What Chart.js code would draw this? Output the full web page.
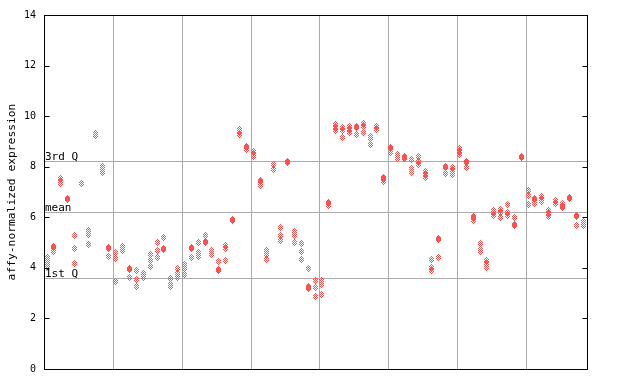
<!DOCTYPE html>
<html><head><meta charset="utf-8">
<script src="https://cdn.jsdelivr.net/npm/chart.js@4/dist/chart.umd.min.js"></script>
<style>html,body{margin:0;padding:0;background:#fff}</style>
</head><body>
<canvas id="c" width="640" height="384" style="width:640px;height:384px;display:block"></canvas>
<script>
// Expression values per sample (each inner list = replicate values of one sample)
const group1 = [[4.40,4.25,4.10],[4.85,4.81,4.66],[7.52,7.42,7.32],[6.74,6.70],[5.27,4.76,4.17],[7.35],[5.48,5.31,4.92],[9.30,9.22],[8.02,7.86,7.76],[4.80,4.76,4.44]];
const group2 = [[4.62,4.36,3.46],[4.84,4.76,4.68],[3.99,3.95,3.62],[3.89,3.54,3.26],[3.76,3.68,3.60],[4.52,4.29,4.05],[4.99,4.68,4.40],[5.19,4.76,4.72],[3.58,3.34,3.26],[3.97,3.77,3.62]];
const group3 = [[4.13,3.97,3.74],[4.80,4.76,4.40],[4.99,4.60,4.44],[5.27,5.04,5.00],[4.68,4.52],[4.25,3.92,3.88],[4.88,4.76,4.29],[5.93,5.89],[9.48,9.38,9.28],[8.81,8.77,8.67]];
const group4 = [[8.60,8.48,8.40],[7.44,7.40,7.24],[4.68,4.52,4.33],[8.10,7.90],[5.58,5.27,5.07],[8.22,8.15],[5.43,5.27,4.99],[4.95,4.64,4.33],[3.97,3.28,3.24,3.18],[3.50,3.22,2.87]];
const group5 = [[3.50,3.34,2.95],[6.60,6.56,6.45],[9.68,9.56,9.45],[9.54,9.45,9.15],[9.58,9.48,9.36],[9.60,9.56,9.28],[9.71,9.61,9.35],[9.21,9.10,8.86],[9.58,9.46],[7.59,7.55,7.43]];
const group6 = [[8.77,8.73,8.57],[8.48,8.32],[8.42,8.38,8.32],[8.30,7.94,7.76],[8.39,8.20,8.10],[7.82,7.71,7.59],[4.33,4.01,3.89],[5.16,5.12,4.40],[8.00,7.96,7.75],[7.98,7.86,7.71]];
const group7 = [[8.71,8.60,8.48],[8.20,8.16,7.98],[6.02,5.98,5.88],[4.95,4.72,4.64],[4.29,4.17,4.01],[6.26,6.17,6.08],[6.32,6.20,5.98],[6.49,6.20,6.06],[5.98,5.71,5.67],[8.41,8.37]];
const group8 = [[7.04,6.85,6.49],[6.76,6.72,6.53],[6.81,6.72,6.62],[6.26,6.13,6.02],[6.66,6.53],[6.55,6.42,6.38],[6.78,6.74],[6.08,6.04,5.66],[5.84,5.75,5.66]];

const yTicks = [0,2,4,6,8,10,12,14];
const groupBoundaries = [10,20,30,40,50,60,70];
const quartileNames = ['3rd Q','mean','1st Q'];
const quartileValues = [8.22,6.21,3.60];
const yTitle = 'affy-normalized expression';

const samples = [].concat(group1,group2,group3,group4,group5,group6,group7,group8);
const xMax = 78.87;
const points = [];
samples.forEach((vals,i)=>vals.forEach(v=>points.push({x:i+0.3,y:v})));

// checkered diamond marker
const mk = document.createElement('canvas'); mk.width = 5; mk.height = 7;
const mc = mk.getContext('2d'); mc.fillStyle = 'rgb(255,80,80)';
const pat = ['..#..','.#.#.','#.#.#','.#.#.','#.#.#','.#.#.','..#..'];
pat.forEach((row,y)=>{for(let x=0;x<row.length;x++) if(row[x]==='#') mc.fillRect(x,y,1,1);});

const decor = {
  id:'decor',
  beforeDatasetsDraw(chart){
    const ctx = chart.ctx, a = chart.chartArea, ys = chart.scales.y;
    ctx.save();
    ctx.strokeStyle = '#aaaaaa'; ctx.lineWidth = 1;
    quartileValues.forEach((q,k)=>{
      const py = Math.round(ys.getPixelForValue(q)) + 0.5;
      ctx.beginPath(); ctx.moveTo(a.left, py); ctx.lineTo(a.right, py); ctx.stroke();
      ctx.fillStyle = '#000'; ctx.font = '11px "DejaVu Sans Mono"';
      ctx.textAlign = 'left'; ctx.textBaseline = 'alphabetic';
      ctx.fillText(quartileNames[k], a.left, py - 1.5);
    });
    ctx.restore();
    ctx.imageSmoothingEnabled = false;
  },
  afterDraw(chart){
    const ctx = chart.ctx, a = chart.chartArea, ys = chart.scales.y;
    ctx.save();
    ctx.strokeStyle = '#000'; ctx.lineWidth = 1;
    const L = Math.floor(a.left) - 0.5, R = Math.round(a.right) + 0.5, T = Math.round(a.top) + 0.5, B = Math.round(a.bottom) + 0.5;
    ctx.strokeRect(L, T, R - L, B - T);
    yTicks.forEach(v=>{
      const py = Math.round(ys.getPixelForValue(v)) + 0.5;
      ctx.beginPath(); ctx.moveTo(L, py); ctx.lineTo(L + 5, py); ctx.stroke();
      ctx.beginPath(); ctx.moveTo(R, py); ctx.lineTo(R - 5, py); ctx.stroke();
    });
    ctx.restore();
  }
};

new Chart(document.getElementById('c'), {
  type:'scatter',
  data:{datasets:[{data:points, pointStyle:mk, pointRadius:3, pointHoverRadius:3, backgroundColor:'rgb(255,80,80)', borderColor:'rgb(255,80,80)'}]},
  options:{
    responsive:false, devicePixelRatio:1, animation:false,
    layout:{padding:{left:0, top:13, right:53, bottom:15}},
    plugins:{legend:{display:false}, tooltip:{enabled:false}},
    scales:{
      x:{type:'linear', min:0, max:xMax,
        afterBuildTicks(s){ s.ticks = groupBoundaries.map(v=>({value:v})); },
        ticks:{display:false}, grid:{color:'#aaaaaa', drawTicks:false, lineWidth:1}, border:{display:false},
        afterFit(s){ s.height = 0; }
      },
      y:{type:'linear', min:0, max:14,
        afterBuildTicks(s){ s.ticks = yTicks.map(v=>({value:v})); },
        ticks:{color:'#000', font:{family:'DejaVu Sans Mono', size:10}, padding:9},
        grid:{display:false, drawTicks:false}, border:{display:false},
        title:{display:true, text:yTitle, color:'#000', font:{family:'DejaVu Sans Mono', size:11.3}, padding:{top:5, bottom:0}},
        afterFit(s){ s.width = 45; }
      }
    }
  },
  plugins:[decor]
});
</script>
</body></html>
